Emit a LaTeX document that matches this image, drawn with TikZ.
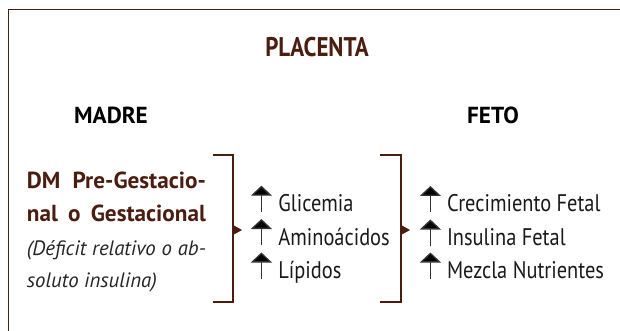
\documentclass[tikz,border=0pt]{standalone}
\usepackage{fontspec}
\setmainfont{PT Sans}
\newfontfamily\condfont{PT Sans}[FakeStretch=0.85]
\usetikzlibrary{arrows.meta}
\definecolor{placbrown}{HTML}{4B1D0F}
\begin{document}
\begin{tikzpicture}
        [x=0.5pt, y=-0.5pt,
        title/.style={font=\condfont\fontsize{13.5}{16}\selectfont\bfseries, text=placbrown, inner sep=0pt, anchor=base},
        head/.style={font=\fontsize{11.6}{14}\selectfont\bfseries, inner sep=0pt, anchor=base},
        dmtext/.style={font=\fontsize{11.6}{13}\selectfont\bfseries, text=placbrown, inner sep=0pt, anchor=base west},
        note/.style={font=\fontsize{10.4}{13}\selectfont\itshape, text=black!85, inner sep=0pt, anchor=base west},
        item/.style={font=\condfont\fontsize{12}{14}\selectfont, text=black!90, inner sep=0pt, anchor=base west},
        bracket/.style={placbrown, line width=1.2pt},
        uparr/.style={black!80, line width=0.65pt, -{Triangle[width=10.5pt,length=5pt,fill=black]}}]

        \useasboundingbox (0,0) rectangle (620,331);

        % frame (cut by the page on the right and below)
        \draw[placbrown, line width=0.5pt] (8,331) -- (8,10) -- (620,10);

        % headings
        \node[title] (plac) at (317,56.5) {PLACENTA};
        \node[head] (madre) at (111,123.3) {MADRE};
        \node[head] (feto) at (493,123.3) {FETO};

        % mother side
        \node[dmtext] (dm1) at (26.5,188.5) {\makebox[89.5pt][s]{DM Pre-Gestacio-}};
        \node[dmtext] (dm2) at (26.5,221.5) {\makebox[89.5pt][s]{nal o Gestacional}};
        \node[note] (dm3) at (26.5,255) {\makebox[89.5pt][s]{(Déficit relativo o ab-}};
        \node[note] (dm4) at (26.5,287) {soluto insulina)};

        % brackets
        \draw[bracket] (213,155) -| (233,302) -- (213,302);
        \fill[placbrown] (233,225) -- (242,230) -- (233,235) -- cycle;
        \draw[bracket] (380,155) -| (401,302) -- (380,302);
        \fill[placbrown] (401,225) -- (410,230) -- (401,235) -- cycle;

        % placenta column
        \node[item] (glic) at (278,211.7) {Glicemia};
        \node[item] (amino) at (278,245) {Aminoácidos};
        \node[item] (lipid) at (278,278.5) {Lípidos};

        % fetus column
        \node[item] (crec) at (446.6,212) {Crecimiento Fetal};
        \node[item] (insul) at (446.6,245.5) {Insulina Fetal};
        \node[item] (mezc) at (446.6,278.5) {Mezcla Nutrientes};

        % up arrows
        \draw[uparr] ([xshift=-8.3pt]glic.base west) -- ++(0,-26);
        \draw[uparr] ([xshift=-8.3pt]amino.base west) -- ++(0,-26);
        \draw[uparr] ([xshift=-8.3pt]lipid.base west) -- ++(0,-26);
        \draw[uparr] ([xshift=-8.1pt]crec.base west) -- ++(0,-26);
        \draw[uparr] ([xshift=-8.1pt]insul.base west) -- ++(0,-26);
        \draw[uparr] ([xshift=-8.1pt]mezc.base west) -- ++(0,-26);

    \end{tikzpicture}
\end{document}
